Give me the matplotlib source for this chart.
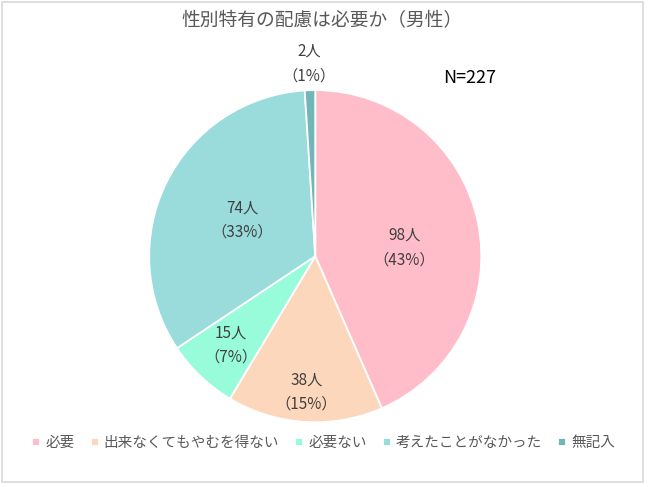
import matplotlib
matplotlib.use("Agg")
import matplotlib.pyplot as plt
import numpy as np

plt.rcParams["font.family"] = ["Noto Sans CJK JP", "DejaVu Sans"]

# data
# (slice sizes follow the printed percentages, labels show the head counts)
categories = ["必要", "出来なくてもやむを得ない", "必要ない", "考えたことがなかった", "無記入"]
counts = [98, 38, 15, 74, 2]
percents = [43, 15, 7, 33, 1]
colors = ["#FFBCC9", "#FDD7BC", "#98FBDA", "#9ADBDC", "#72B7B8"]
# label placement: radial distance and where along the wedge's arc (0..1)
label_dist = [0.54, 0.82, 0.74, 0.49, 1.16]
label_frac = [0.46, 0.5, 0.5, 0.5, 0.5]

fig = plt.figure(figsize=(6.5, 4.87), dpi=100)
fig.patch.set_facecolor("white")
# thin grey frame around the chart area
fig.patches.append(plt.Rectangle((0.003, 0.010), 0.986, 0.986, transform=fig.transFigure,
                                 fill=False, edgecolor="#D9D9D9", linewidth=1.2))

ax = fig.add_axes([0.485 - 0.2555, 0.474 - 0.341, 0.511, 0.682])
wedges, _ = ax.pie(percents, colors=colors, startangle=90, counterclock=False,
                   wedgeprops=dict(edgecolor="white", linewidth=1.3))
ax.set_xlim(-1, 1)
ax.set_ylim(-1, 1)
ax.set_aspect("equal")

for w, n, p, d, f in zip(wedges, counts, percents, label_dist, label_frac):
    ang = np.deg2rad(w.theta1 + f * (w.theta2 - w.theta1))
    ax.text(d * np.cos(ang), d * np.sin(ang), f"{n}人\n（{p}%）",
            ha="center", va="center", fontsize=11, color="#404040", linespacing=1.55)

fig.text(0.496, 0.957, "性別特有の配慮は必要か（男性）", ha="center", va="center",
         fontsize=13.5, color="#595959")
fig.text(0.723, 0.84, "N=227", ha="center", va="center", fontsize=13, color="black")

fig.legend(wedges, categories, loc="center", bbox_to_anchor=(0.498, 0.09), ncol=5,
           frameon=False, fontsize=10.5, handlelength=0.55, handleheight=0.55,
           handletextpad=0.35, columnspacing=1.1, labelcolor="#595959")

fig.savefig("out.png", dpi=100)
